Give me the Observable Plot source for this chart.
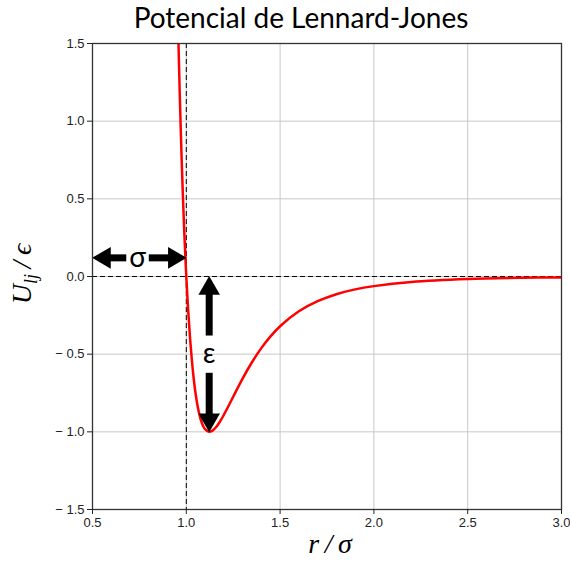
<!DOCTYPE html>
<html><head><meta charset="utf-8">
<script src="https://cdn.jsdelivr.net/npm/d3@7"></script>
<script src="https://cdn.jsdelivr.net/npm/@observablehq/plot@0.6"></script>
<style>
body{margin:0;background:#fff;}
#title{height:36px;line-height:34px;font-family:Lato,"Open Sans",sans-serif;font-size:28px;color:#000;text-align:center;padding-left:32px;box-sizing:border-box;width:570px;white-space:nowrap;}
#chart svg{display:block;}
#chart svg g[aria-label="x-axis tick label"] text, #chart svg g[aria-label="y-axis tick label"] text{font-size:13px;}
</style></head><body>
<div id="title">Potencial de Lennard-Jones</div>
<div id="chart"></div>
<script>
// Curve: r/σ and U/ε
const rValues = [0.955, 0.96, 0.965, 0.97, 0.975, 0.98, 0.985, 0.99, 0.995, 1.0, 1.01, 1.02, 1.03, 1.04, 1.05, 1.06, 1.07, 1.08, 1.09, 1.10, 1.12, 1.14, 1.16, 1.18, 1.20, 1.22, 1.25, 1.30, 1.35, 1.40, 1.45, 1.50, 1.60, 1.70, 1.80, 1.90, 2.00, 2.20, 2.50, 2.80, 3.00];
const uValues = [1.678, 1.417, 1.180, 0.963, 0.764, 0.582, 0.416, 0.264, 0.126, 0.0, -0.218, -0.398, -0.544, -0.663, -0.758, -0.832, -0.889, -0.932, -0.963, -0.983, -1.000, -0.992, -0.968, -0.933, -0.891, -0.845, -0.774, -0.657, -0.552, -0.461, -0.384, -0.320, -0.224, -0.159, -0.114, -0.083, -0.062, -0.035, -0.016, -0.008, -0.006];

const xTicks = [0.5, 1.0, 1.5, 2.0, 2.5, 3.0];
const yTicks = [-1.5, -1.0, -0.5, 0.0, 0.5, 1.0, 1.5];
const xDomain = [0.5, 3.0];
const yDomain = [-1.5, 1.5];

// Reference lines
const zeroLevel = [0];
const sigmaPos = [1.0];

// Annotation arrows (tail -> tip), in data units
const sigmaArrows = [
  {x1: 0.68, y1: 0.12, x2: 0.5, y2: 0.12},
  {x1: 0.80, y1: 0.12, x2: 1.0, y2: 0.12}
];
const epsArrows = [
  {x1: 1.122, y1: -0.38, x2: 1.122, y2: 0.0},
  {x1: 1.122, y1: -0.62, x2: 1.122, y2: -1.0}
];
const arrowLabels = [
  {x: 0.74, y: 0.12, text: "σ"},
  {x: 1.122, y: -0.50, text: "ε"}
];

const curve = rValues.map((r, i) => ({r, u: uValues[i]}));
const fmt = d => d < 0 ? "\u2212 " + Math.abs(d).toFixed(1) : d.toFixed(1);

const headSize = 8; // dot radius for triangle heads
const tipOff = 12;

const plot = Plot.plot({
  width: 570,
  height: 533,
  marginLeft: 92,
  marginRight: 9,
  marginTop: 7,
  marginBottom: 60,
  style: {fontFamily: "'Liberation Sans', Arial, sans-serif", fontSize: "13px", color: "#222", background: "#fff"},
  x: {domain: xDomain},
  y: {domain: yDomain},
  marks: [
    Plot.gridX(xTicks, {stroke: "#c8c8c8", strokeOpacity: 1, strokeWidth: 1}),
    Plot.gridY(yTicks, {stroke: "#c8c8c8", strokeOpacity: 1, strokeWidth: 1}),
    Plot.ruleY(zeroLevel, {stroke: "#000", strokeWidth: 1, strokeDasharray: "5,3"}),
    Plot.ruleX(sigmaPos, {stroke: "#000", strokeWidth: 1, strokeDasharray: "5,3"}),
    Plot.line(curve, {x: "r", y: "u", stroke: "#ff0000", strokeWidth: 2.5, curve: "catmull-rom", clip: true}),
    Plot.arrow([...sigmaArrows, ...epsArrows], {x1: "x1", y1: "y1", x2: "x2", y2: "y2", stroke: "#000", strokeWidth: 7, headLength: 0, insetEnd: 16, strokeLinecap: "butt"}),
    Plot.dot([sigmaArrows[0]], {x: "x2", y: "y2", symbol: "triangle", r: headSize, fill: "#000", stroke: "none", rotate: -90, dx: tipOff}),
    Plot.dot([sigmaArrows[1]], {x: "x2", y: "y2", symbol: "triangle", r: headSize, fill: "#000", stroke: "none", rotate: 90, dx: -tipOff}),
    Plot.dot([epsArrows[0]], {x: "x2", y: "y2", symbol: "triangle", r: headSize, fill: "#000", stroke: "none", rotate: 0, dy: tipOff}),
    Plot.dot([epsArrows[1]], {x: "x2", y: "y2", symbol: "triangle", r: headSize, fill: "#000", stroke: "none", rotate: 180, dy: -tipOff}),
    Plot.text(arrowLabels, {x: "x", y: "y", text: "text", fontSize: 28, fontFamily: "Lato, 'Open Sans', sans-serif", fill: "#000"}),
    Plot.frame({stroke: "#333", strokeWidth: 1.3}),
    Plot.axisX(xTicks, {tickSize: 5, tickPadding: 3, tickFormat: d => d.toFixed(1), label: null, fontSize: 13, stroke: "#222", fill: "#222"}),
    Plot.axisY(yTicks, {tickSize: 5, tickPadding: 3, tickFormat: fmt, label: null, fontSize: 13, stroke: "#222", fill: "#222"})
  ]
});
document.getElementById("chart").appendChild(plot);

const svg = d3.select(plot);
const yl = svg.append("text")
  .attr("transform", "translate(31,238) rotate(-90)")
  .attr("text-anchor", "middle")
  .attr("font-family", "'Liberation Serif', 'DejaVu Serif', serif")
  .attr("font-style", "italic")
  .attr("font-size", 28)
  .attr("fill", "#000");
yl.append("tspan").text("U");
yl.append("tspan").attr("font-size", 18).attr("dy", 6).text("lj");
yl.append("tspan").attr("dy", -6).text("\u2009/\u2009\u03f5");

svg.append("text")
  .attr("x", 330).attr("y", 517)
  .attr("text-anchor", "middle")
  .attr("font-family", "'Liberation Serif', 'DejaVu Serif', serif")
  .attr("font-style", "italic")
  .attr("font-size", 28)
  .attr("fill", "#000")
  .text("r\u2009/\u2009\u03c3");
</script>
</body></html>
